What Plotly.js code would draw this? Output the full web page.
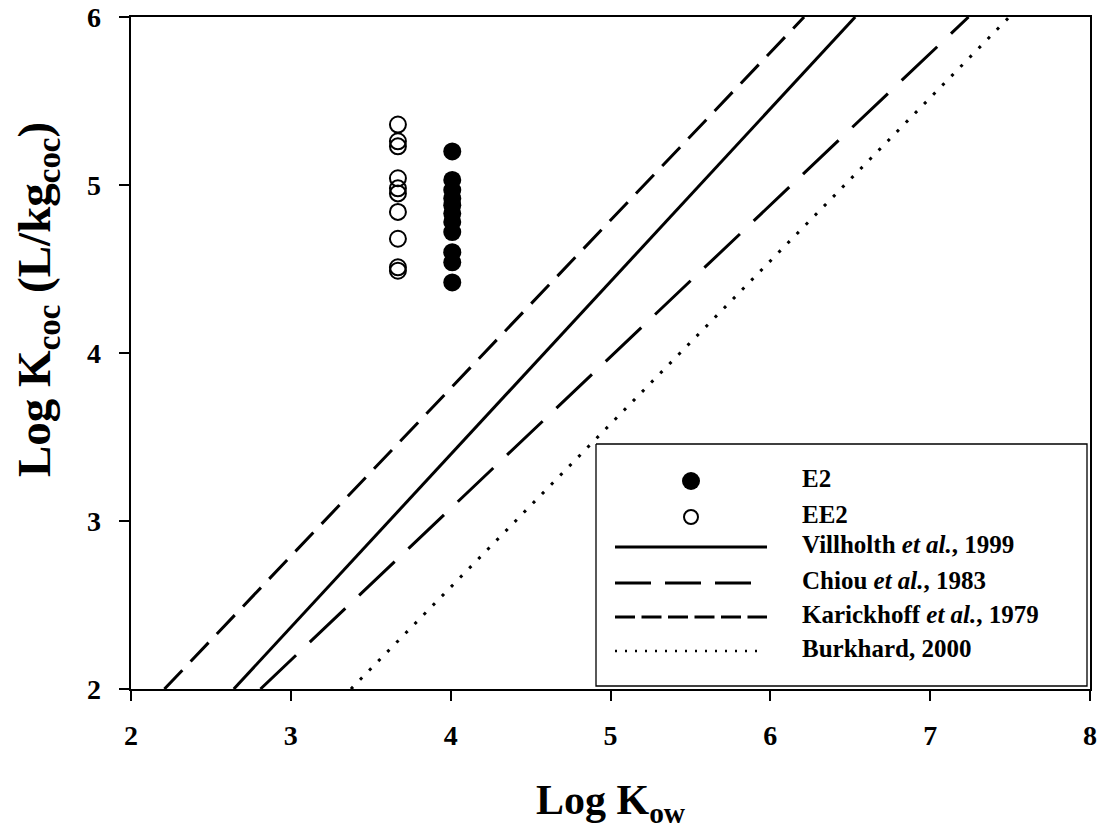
<!DOCTYPE html>
<html>
<head>
<meta charset="utf-8">
<script src="https://cdn.plot.ly/plotly-3.0.1.min.js"></script>
<style>
  html, body { margin: 0; padding: 0; background: #ffffff; }
  #chart { width: 1106px; height: 833px; }
</style>
</head>
<body>
<div id="chart"></div>
<script>
// Measured log Koc values for each steroid, plotted at its log Kow
const e2LogKow = 4.01;
const e2LogKoc = [5.20, 5.03, 4.97, 4.92, 4.88, 4.83, 4.78, 4.72, 4.60, 4.54, 4.42];
const ee2LogKow = 3.67;
const ee2LogKoc = [5.36, 5.26, 5.23, 5.04, 4.98, 4.95, 4.84, 4.68, 4.51, 4.49];

// Literature Koc-Kow relationships, given by their end points (log Kow, log Koc)
const villholthKow = [2.643, 6.531];
const villholthKoc = [2, 6];
const chiouKow = [2.810, 7.240];
const chiouKoc = [2, 6];
const karickhoffKow = [2.209, 6.211];
const karickhoffKoc = [2, 6];
const burkhardKow = [3.376, 7.495];
const burkhardKoc = [2, 6];

const xTicks = [2, 3, 4, 5, 6, 7, 8];
const yTicks = [2, 3, 4, 5, 6];

const FONT = 'Liberation Serif, Times New Roman, serif';

const traces = [
  { x: karickhoffKow, y: karickhoffKoc, mode: 'lines',
    line: { color: '#000', width: 3, dash: '26px,12px' } },
  { x: villholthKow, y: villholthKoc, mode: 'lines',
    line: { color: '#000', width: 3 } },
  { x: chiouKow, y: chiouKoc, mode: 'lines',
    line: { color: '#000', width: 3, dash: '49px,19px' } },
  { x: burkhardKow, y: burkhardKoc, mode: 'lines',
    line: { color: '#000', width: 3, dash: '3px,10px' } },
  { x: e2LogKoc.map(() => e2LogKow), y: e2LogKoc, mode: 'markers',
    marker: { symbol: 'circle', size: 18, color: '#000' } },
  { x: ee2LogKoc.map(() => ee2LogKow), y: ee2LogKoc, mode: 'markers',
    marker: { symbol: 'circle-open', size: 16, color: '#000', line: { width: 2 } } }
];

// Key panel, drawn on a hidden overlay axis pair measured in pixels
// (x: left to right, y: top to bottom across the plot area)
const M = { l: 131, r: 16, t: 17, b: 144 };
const W = 1106, H = 833;
const plotW = W - M.l - M.r, plotH = H - M.t - M.b;

const legendRows = [
  { label: 'E2', kind: 'filled', y: 481 },
  { label: 'EE2', kind: 'open', y: 517 },
  { label: 'Villholth <i>et al.</i>, 1999', kind: 'line', dash: 'solid', width: 3, end: 767, y: 547 },
  { label: 'Chiou <i>et al.</i>, 1983', kind: 'line', dash: '36px,14px', width: 3, end: 752, y: 583 },
  { label: 'Karickhoff <i>et al.</i>, 1979', kind: 'line', dash: '20px,6.5px', width: 3, end: 767, y: 617 },
  { label: 'Burkhard, 2000', kind: 'line', dash: '2px,8px', width: 2.5, end: 763, y: 651 }
];
const key = { left: 596, right: 1087, top: 444, bottom: 686, lineStart: 615, markerX: 691, textX: 802 };

const keyTraces = [{
  x: [key.left, key.right, key.right, key.left, key.left],
  y: [key.top, key.top, key.bottom, key.bottom, key.top],
  xaxis: 'x2', yaxis: 'y2', mode: 'lines', fill: 'toself', fillcolor: '#fff',
  line: { color: '#000', width: 1.3 }, hoverinfo: 'skip'
}];
legendRows.forEach(r => {
  if (r.kind === 'line') {
    keyTraces.push({ x: [key.lineStart, r.end], y: [r.y, r.y], xaxis: 'x2', yaxis: 'y2',
      mode: 'lines', line: { color: '#000', width: r.width, dash: r.dash }, hoverinfo: 'skip' });
  } else if (r.kind === 'filled') {
    keyTraces.push({ x: [key.markerX], y: [r.y], xaxis: 'x2', yaxis: 'y2', mode: 'markers',
      marker: { symbol: 'circle', size: 18, color: '#000' }, hoverinfo: 'skip' });
  } else {
    keyTraces.push({ x: [key.markerX], y: [r.y], xaxis: 'x2', yaxis: 'y2', mode: 'markers',
      marker: { symbol: 'circle-open', size: 14, color: '#000', line: { width: 2 } }, hoverinfo: 'skip' });
  }
});
keyTraces.push({
  x: legendRows.map(() => key.textX), y: legendRows.map(r => r.y),
  text: legendRows.map(r => '<b>' + r.label + '</b>'),
  xaxis: 'x2', yaxis: 'y2', mode: 'text', textposition: 'middle right',
  textfont: { family: FONT, size: 25, color: '#000' }, hoverinfo: 'skip', cliponaxis: false
});

const tickFont = { family: FONT, size: 28, color: '#000', weight: 'bold' };

const axisCommon = {
  showgrid: false, zeroline: false, showline: true, mirror: true,
  linecolor: '#000', linewidth: 1.5,
  ticks: 'outside', ticklen: 10, tickwidth: 1.5, tickcolor: '#000',
  tickfont: tickFont, automargin: false, fixedrange: true
};

// Y tick numbers are set as annotations so they sit well clear of the ticks
const yTickLabels = yTicks.map(v => ({
  xref: 'paper', yref: 'y', x: (103 - M.l) / plotW, y: v,
  xanchor: 'right', yanchor: 'middle', showarrow: false,
  text: String(v), font: tickFont
}));

const layout = {
  width: W, height: H,
  margin: M,
  paper_bgcolor: '#fff', plot_bgcolor: '#fff',
  showlegend: false,
  xaxis: Object.assign({}, axisCommon, {
    range: [2, 8], tickvals: xTicks, ticktext: xTicks.map(String),
    ticklabelstandoff: 11,
    title: { text: '<b>Log K<sub>ow</sub></b>', standoff: 34,
      font: { family: FONT, size: 42, color: '#000' } }
  }),
  yaxis: Object.assign({}, axisCommon, {
    range: [2, 6], tickvals: yTicks, showticklabels: false
  }),
  xaxis2: { overlaying: 'x', range: [M.l, W - M.r], visible: false, fixedrange: true },
  yaxis2: { overlaying: 'y', range: [H - M.b, M.t], visible: false, fixedrange: true },
  annotations: yTickLabels.concat([{
    // Y-axis title, set a little above the axis centre
    xref: 'paper', yref: 'paper',
    x: (38 - M.l) / plotW, y: (H - M.b - 300) / plotH,
    xanchor: 'center', yanchor: 'middle', textangle: -90, showarrow: false,
    text: '<b>Log K<sub>coc</sub> (L/kg<sub>coc</sub>)</b>',
    font: { family: FONT, size: 47, color: '#000' }
  }])
};

Plotly.newPlot('chart', traces.concat(keyTraces), layout, { displayModeBar: false });
</script>
</body>
</html>
